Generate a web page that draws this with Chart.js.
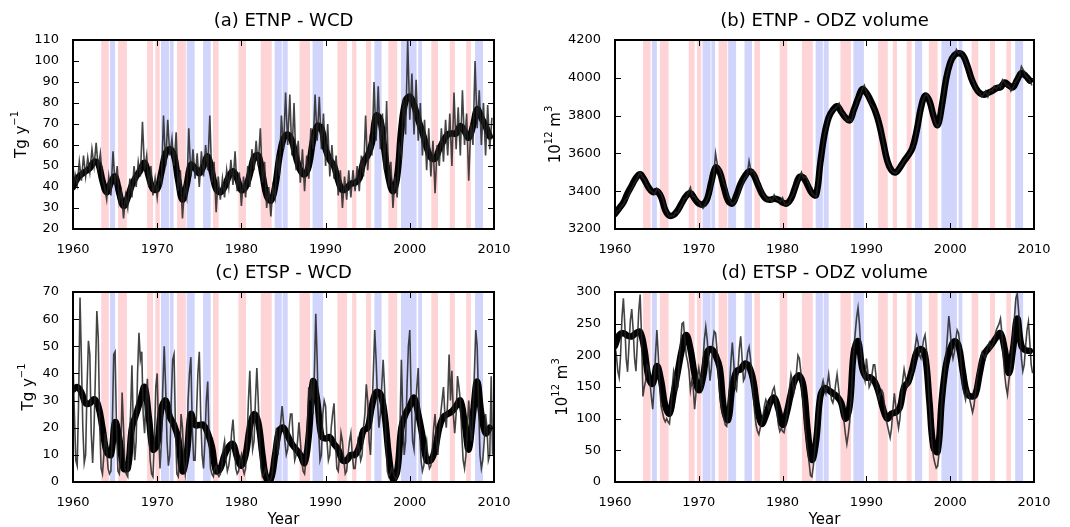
<!DOCTYPE html>
<html><head><meta charset="utf-8">
<script src="https://cdn.jsdelivr.net/npm/chart.js@4.4.1/dist/chart.umd.min.js"></script>
<style>
html,body{margin:0;padding:0;background:#fff;}
#wrap{position:relative;width:1070px;height:527px;overflow:hidden;}
canvas{position:absolute;}
</style></head><body>
<div id="wrap">
<canvas id="cA" width="535" height="263" style="left:0;top:0"></canvas>
<canvas id="cB" width="535" height="263" style="left:535px;top:0"></canvas>
<canvas id="cC" width="535" height="264" style="left:0;top:263px"></canvas>
<canvas id="cD" width="535" height="264" style="left:535px;top:263px"></canvas>
</div>
<script>
// ---------- tick labels / categories ----------
const yearTicks = [1960, 1970, 1980, 1990, 2000, 2010];
const firstYear = 1960;
const smoothStep = 0.5;      // smoothed series sampled every half year
const rawStepAB = 0.25;      // raw series (a),(b) sampled every quarter
const rawStepCD = 1 / 6;     // raw series (c),(d) sampled every two months

// ---------- ENSO shading (start year, end year) ----------
const elNinoBands = [
  [1963.35,1964.25],[1965.35,1966.4],[1968.8,1969.5],[1969.78,1970.3],[1972.35,1973.4],
  [1976.63,1977.3],[1979.65,1980.55],[1982.3,1983.6],[1986.9,1988.15],[1991.4,1992.55],
  [1993.15,1993.65],[1994.8,1995.4],[1997.45,1998.5],[2002.55,2003.35],[2004.75,2005.35],
  [2006.7,2007.25]
];
const laNinaBands = [
  [1964.4,1965.0],[1970.45,1971.4],[1971.5,1971.95],[1973.5,1974.45],[1975.45,1976.35],
  [1983.95,1984.8],[1984.9,1985.5],[1988.45,1989.7],[1995.8,1996.65],[1998.95,2000.8],
  [2001.0,2001.45],[2007.75,2008.7]
];

// ---------- (a) ETNP - WCD ----------
const etnpWcdSmooth = [
 40,44, 46,47.5, 49,52, 51,43, 37.5,42, 45,37, 31,35, 41,45, 48,51.5, 45,39,
 39,47, 56,58, 55,43, 34,41, 50.5,49, 46.5,50, 54.5,47, 39,37.5, 40,45, 47.5,44,
 38.5,40, 46,54, 55,46, 36,33.5, 40,54, 63,65, 62,54, 48,46, 50,62, 69,68,
 58,53, 50,43, 38.5,39.5, 41.5,42, 44,52, 55,61, 74,72, 57,44, 38,45, 68,81,
 83,79, 72,66, 59,54, 53.5,58, 62,65, 65.5,65.5, 69,66.5, 63.5,69, 77,73, 69,64
];
const etnpWcdRaw = [
 38,46,41,52, 43,55,45,54, 47,58,50,61, 49,56,44,40, 34,45,36,57,
 41,50,33,38, 25,36,30,44, 35,50,40,52, 45,71,48,55, 40,50,36,44,
 35,45,42,74, 50,72,55,63, 50,66,38,48, 25,40,35,68, 45,58,44,56,
 40,57,45,60, 48,74,42,52, 28,45,34,44, 35,48,40,53, 41,57,38,47,
 31,45,35,50, 40,58,48,62, 50,68,42,52, 30,40,26,40, 35,55,45,74,
 58,85,60,84, 55,80,48,62, 42,58,38,55, 44,68,58,84, 62,83,58,75,
 50,70,45,60, 44,55,36,48, 30,45,34,48, 35,48,38,50, 38,55,45,74,
 48,62,55,90, 62,88,58,75, 48,81,40,52, 30,45,35,60, 55,82,65,110,
 72,94,65,91, 62,80,55,72, 48,68,45,62, 37,60,50,68, 52,72,55,75,
 50,85,58,78, 55,86,60,75, 43,70,60,100, 68,86,60,80, 55,79,58,73
];

// ---------- (b) ETNP - ODZ volume ----------
const etnpOdzSmooth = [
 3280,3310, 3340,3390, 3430,3470, 3490,3460, 3420,3395, 3400,3370, 3300,3270, 3275,3300, 3340,3375, 3390,3360,
 3335,3330, 3360,3450, 3525,3500, 3420,3350, 3335,3380, 3440,3480, 3505,3490, 3440,3390, 3360,3355, 3360,3355,
 3340,3335, 3360,3420, 3475,3470, 3430,3390, 3380,3550, 3700,3790, 3830,3850, 3820,3790, 3775,3830, 3890,3940,
 3920,3880, 3830,3760, 3660,3560, 3510,3500, 3525,3560, 3590,3630, 3720,3840, 3905,3880, 3800,3750, 3850,3990,
 4080,4120, 4130,4120, 4070,4000, 3950,3920, 3910,3920, 3930,3945, 3950,3975, 3960,3950, 3990,4025, 4010,3985
];
const etnpOdzRaw = [
 3270,3295,3300,3320, 3330,3355,3365,3395, 3415,3440,3455,3480, 3500,3475,3465,3440, 3420,3400,3395,3385,
 3415,3400,3385,3355, 3310,3285,3265,3270, 3270,3290,3285,3310, 3330,3360,3365,3395, 3420,3375,3370,3350,
 3345,3325,3310,3330, 3355,3385,3420,3470, 3600,3530,3515,3480, 3440,3420,3370,3350, 3330,3340,3355,3380,
 3420,3440,3470,3480, 3560,3500,3510,3480, 3455,3430,3405,3380, 3365,3350,3360,3345, 3380,3360,3350,3345,
 3365,3330,3330,3335, 3365,3380,3415,3440, 3470,3500,3470,3480, 3450,3420,3390,3375, 3370,3450,3550,3620,
 3700,3740,3790,3810, 3830,3835,3850,3865, 3820,3810,3790,3770, 3780,3770,3830,3850, 3890,3910,3940,3960,
 3920,3900,3860,3850, 3830,3800,3760,3720, 3660,3610,3560,3530, 3510,3500,3495,3510, 3525,3540,3560,3575,
 3590,3605,3630,3660, 3720,3770,3840,3880, 3905,3915,3880,3850, 3800,3760,3740,3760, 3850,3920,3990,4040,
 4080,4110,4120,4150, 4130,4140,4120,4100, 4070,4040,4000,3980, 3950,3930,3920,3900, 3910,3930,3900,3935,
 3930,3955,3940,3960, 3950,3990,3975,3960, 3960,3930,3950,3975, 3990,4010,4060,4040, 4010,4000,3985,3960
];

// ---------- (c) ETSP - WCD ----------
const etspWcdSmooth = [
 34,35, 33,29, 29,30.5, 28,20, 11,10, 22,16, 5,5, 20,25, 30,35, 24,12,
 14,27, 30,24, 21,16, 4,10, 25,21, 21,21, 18,13, 4,5, 10,13, 14,9,
 6,10, 20,25, 22,10, 1,1, 10,19, 20,17, 14,12, 10,7, 17,37, 30,17,
 16,16.5, 14,12, 8,8, 10,10, 13,19, 20,28, 33,32.5, 25,10, 1,4, 20,25,
 28,31, 25,17, 8,8, 12,20, 24,25, 26,28, 30,22, 12,25, 37,25, 18,20
];
const etspWcdRaw = [
 44,25,8,6,30,68,   45,20,7,10,35,52,   47,18,7,20,40,63,   53,22,5,3,10,18,   12,5,3,4,20,47,
 48,20,4,3,10,33,   20,5,3,2,15,25,     43,20,8,15,40,55,   45,48,25,18,30,38, 20,8,3,2,15,35,
 40,18,5,15,35,50,  35,15,6,10,30,45,   47,20,3,2,8,25,     20,8,3,8,30,40,    46,20,8,8,25,40,
 48,25,10,5,15,30,  37,15,5,3,2,5,      6,3,2,3,5,12,       15,8,4,6,10,18,    23,15,5,3,4,8,
 10,5,3,5,15,30,    41,25,12,15,30,42,  30,15,5,2,3,5,      3,1,0,1,3,10,      15,20,10,15,22,28,
 22,15,10,12,20,25, 25,15,8,10,15,22,   15,8,4,3,8,20,      35,30,38,25,40,62, 45,20,8,10,25,30,
 28,15,8,10,20,25,  29,15,5,4,10,18,    15,8,3,4,10,15,     18,10,5,5,10,15,   12,8,10,20,25,36,
 30,15,10,25,40,56, 45,30,20,25,35,45,  35,15,4,2,3,5,      4,2,1,2,5,20,      45,25,10,15,35,50,
 56,30,15,12,25,35, 42,20,8,4,6,12,     15,8,5,6,12,20,     25,15,10,18,25,30, 35,25,20,30,47,30,
 41,25,18,25,39,35, 30,18,8,5,10,20,    30,20,15,25,40,56,  50,30,10,5,8,15,   25,20,8,10,39,10
];

// ---------- (d) ETSP - ODZ volume ----------
const etspOdzSmooth = [
 215,232, 235,231, 230,235, 237,210, 165,155, 183,160, 120,108, 140,175, 210,232, 210,170,
 145,165, 205,210, 200,180, 115,98, 150,175, 178,187, 182,160, 115,92, 105,125, 133,115,
 90,110, 140,162, 168,150, 80,35, 65,135, 148,145, 140,135, 125,100, 120,205, 222,180,
 165,165, 158,140, 115,100, 108,110, 118,150, 158,180, 205,210, 200,130, 55,48, 130,185,
 210,222, 215,175, 140,135, 138,170, 200,210, 218,228, 235,210, 172,210, 258,215, 208,207
];
const etspOdzRaw = [
 215,200,175,165,200,260, 290,250,195,174,215,255, 273,240,195,175,220,270, 296,230,135,150,160,185, 180,160,135,115,150,200,
 240,200,150,120,110,100, 95,100,95,92,115,150,    175,165,145,150,195,220, 250,252,225,200,190,175, 145,160,150,115,140,165,
 180,165,150,190,225,245, 225,195,160,180,220,238, 235,210,170,140,120,110, 100,90,88,115,150,190,    220,190,150,145,175,210,
 230,195,160,165,185,205, 213,195,170,140,110,90,  80,75,85,95,105,120,     130,125,115,120,135,145, 150,135,110,90,80,85,
 80,78,90,105,125,150,    170,160,140,150,175,200, 195,175,140,120,95,70,   50,30,10,8,25,50,        80,100,125,140,150,160,
 148,140,155,170,150,130, 125,135,155,170,150,130, 120,110,95,75,60,75,     95,130,175,210,235,260,  275,250,210,180,170,160,
 195,175,150,155,170,185, 185,165,140,130,140,145, 140,120,100,90,80,70,    85,115,140,120,100,85,   100,130,160,178,165,150,
 155,160,170,175,195,215, 230,220,200,195,210,225, 232,210,170,125,90,60,   40,30,22,25,45,90,       130,150,175,200,230,262,
 240,210,195,205,225,240, 235,215,180,150,140,130, 145,140,130,120,110,120, 140,160,175,185,195,205, 200,195,205,215,220,210,
 215,220,230,240,245,250, 258,235,200,170,150,138, 160,175,200,230,260,290, 297,270,230,195,175,185, 215,240,253,220,185,172
];

// ---------- styling ----------
const FONT = '"DejaVu Sans", "Liberation Sans", sans-serif';
const PINK = 'rgb(255,212,215)';
const BLUE = 'rgb(209,213,252)';

function toXY(vals, step) { return vals.map((v, i) => ({ x: firstYear + i * step, y: v })); }

function drawRich(ctx, segs, x, y, rotate, size) {
  ctx.save();
  ctx.translate(x, y);
  if (rotate) ctx.rotate(-Math.PI / 2);
  const base = size + 'px ' + FONT, sup = Math.round(size * 0.68) + 'px ' + FONT;
  let w = 0;
  for (const s of segs) { ctx.font = s.sup ? sup : base; w += ctx.measureText(s.t).width; }
  let cx = -w / 2;
  ctx.textBaseline = 'middle'; ctx.textAlign = 'left'; ctx.fillStyle = '#000';
  for (const s of segs) {
    ctx.font = s.sup ? sup : base;
    ctx.fillText(s.t, cx, s.sup ? -size * 0.42 : 0);
    cx += ctx.measureText(s.t).width;
  }
  ctx.restore();
}

const panelPlugin = {
  id: 'panel',
  beforeDatasetsDraw(chart) {
    const { ctx, chartArea: a, scales: { x } } = chart;
    ctx.save();
    ctx.beginPath(); ctx.rect(a.left, a.top, a.width, a.height); ctx.clip();
    ctx.fillStyle = PINK;
    for (const [s, e] of elNinoBands) { const x0 = x.getPixelForValue(s), x1 = x.getPixelForValue(e); ctx.fillRect(x0, a.top, x1 - x0, a.height); }
    ctx.fillStyle = BLUE;
    for (const [s, e] of laNinaBands) { const x0 = x.getPixelForValue(s), x1 = x.getPixelForValue(e); ctx.fillRect(x0, a.top, x1 - x0, a.height); }
    ctx.restore();
  },
  afterDraw(chart) {
    const { ctx, chartArea: a, scales: { x, y } } = chart;
    const o = chart.options.plugins.panel;
    ctx.save();
    ctx.strokeStyle = '#000';
    ctx.lineWidth = 1;
    const tl = 6;
    ctx.beginPath();
    for (const t of x.ticks) {
      const px = Math.round(x.getPixelForValue(t.value)) + 0.5;
      ctx.moveTo(px, a.bottom); ctx.lineTo(px, a.bottom - tl);
      ctx.moveTo(px, a.top); ctx.lineTo(px, a.top + tl);
    }
    for (const t of y.ticks) {
      const py = Math.round(y.getPixelForValue(t.value)) + 0.5;
      ctx.moveTo(a.left, py); ctx.lineTo(a.left + tl, py);
      ctx.moveTo(a.right, py); ctx.lineTo(a.right - tl, py);
    }
    ctx.stroke();
    ctx.lineWidth = 2;
    ctx.strokeRect(a.left, a.top, a.width, a.height);
    // title
    ctx.fillStyle = '#000';
    ctx.font = '18px ' + FONT;
    ctx.textAlign = 'center'; ctx.textBaseline = 'middle';
    ctx.fillText(o.title, (a.left + a.right) / 2, a.top - 19);
    // x label
    if (o.xlabel) {
      ctx.font = '15px ' + FONT;
      ctx.fillText(o.xlabel, (a.left + a.right) / 2, a.bottom + 38);
    }
    ctx.restore();
    drawRich(ctx, o.ylabel, o.ylabelX, (a.top + a.bottom) / 2, true, 15);
  }
};

function makeChart(id, raw, rawStep, smooth, yMin, yMax, yStep, pad, axisW, axisH, title, ylabel, ylabelX, xlabel) {
  return new Chart(document.getElementById(id), {
    type: 'line',
    data: {
      datasets: [
        { data: toXY(raw, rawStep), borderColor: 'rgba(35,35,35,0.85)', borderWidth: 1.6, pointRadius: 0, tension: 0, clip: 0 },
        { data: toXY(smooth, smoothStep), borderColor: '#000', borderWidth: 6.5, pointRadius: 0, tension: 0.4, borderJoinStyle: 'round', borderCapStyle: 'round', clip: 0 }
      ]
    },
    options: {
      responsive: false, animation: false, events: [], devicePixelRatio: 1,
      layout: { padding: pad },
      plugins: { legend: { display: false }, tooltip: { enabled: false },
        panel: { title: title, ylabel: ylabel, ylabelX: ylabelX, xlabel: xlabel } },
      scales: {
        x: {
          type: 'linear', min: 1960, max: 2010,
          grid: { display: false }, border: { display: false },
          afterBuildTicks(s) { s.ticks = yearTicks.map(v => ({ value: v })); },
          afterFit(s) { s.height = axisH; },
          ticks: { color: '#000', font: { family: FONT, size: 13 }, padding: 5, maxRotation: 0, autoSkip: false, callback: v => String(v) }
        },
        y: {
          min: yMin, max: yMax,
          grid: { display: false }, border: { display: false },
          afterFit(s) { s.width = axisW; },
          ticks: { stepSize: yStep, color: '#000', font: { family: FONT, size: 13 }, padding: 6, autoSkip: false, callback: v => String(v) }
        }
      }
    },
    plugins: [panelPlugin]
  });
}

makeChart('cA', etnpWcdRaw, rawStepAB, etnpWcdSmooth, 20, 110, 10,
  { left: 0, right: 41, top: 40, bottom: 0 }, 73, 34, '(a) ETNP - WCD',
  [{ t: 'Tg y' }, { t: '\u22121', sup: true }], 22, null);
makeChart('cB', etnpOdzRaw, rawStepAB, etnpOdzSmooth, 3200, 4200, 200,
  { left: 0, right: 36, top: 40, bottom: 0 }, 80, 34, '(b) ETNP - ODZ volume',
  [{ t: '10' }, { t: '12', sup: true }, { t: ' m' }, { t: '3', sup: true }], 21, null);
makeChart('cC', etspWcdRaw, rawStepCD, etspWcdSmooth, 0, 70, 10,
  { left: 0, right: 41, top: 29, bottom: 0 }, 73, 45, '(c) ETSP - WCD',
  [{ t: 'Tg y' }, { t: '\u22121', sup: true }], 29, 'Year');
makeChart('cD', etspOdzRaw, rawStepCD, etspOdzSmooth, 0, 300, 50,
  { left: 0, right: 36, top: 29, bottom: 0 }, 80, 45, '(d) ETSP - ODZ volume',
  [{ t: '10' }, { t: '12', sup: true }, { t: ' m' }, { t: '3', sup: true }], 28, 'Year');
</script>
</body></html>
